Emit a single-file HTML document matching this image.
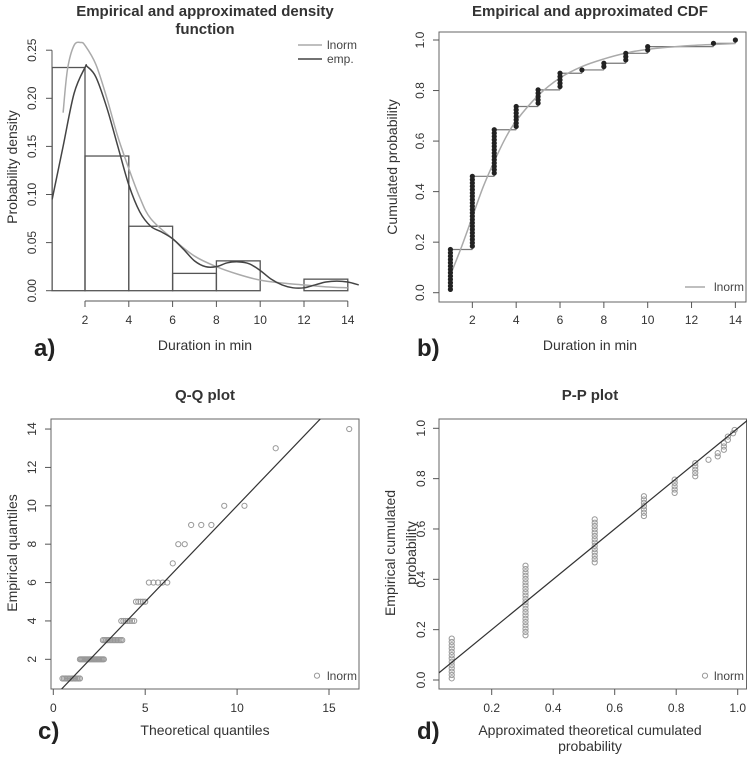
<!DOCTYPE html>
<html><head><meta charset="utf-8"><style>
html,body{margin:0;padding:0;background:#fff;}
svg{display:block;font-family:"Liberation Sans",Arial,sans-serif;}
.tk{font-size:12px;fill:#333;}
.lab{font-size:14px;fill:#333;}
.ttl{font-size:15px;font-weight:bold;fill:#333;}
.pl{font-size:24px;font-weight:bold;fill:#222;}
.leg{font-size:12px;fill:#444;}
</style></head><body>
<svg id="chart" width="750" height="758" viewBox="0 0 750 758">
<g id="gA"></g>
<g id="gB"></g>
<g id="gC"></g>
<g id="gD"></g>
</svg>
<script>
// ---- data ----
const histBreaks = [0.5, 2, 4, 6, 8, 10, 12, 14];
const histDensity = [0.232, 0.14, 0.067, 0.018, 0.031, 0, 0.012];
const lnormDensX = [1, 1.2, 1.5, 1.8, 2, 2.5, 3, 3.5, 4, 4.5, 5, 6, 7, 8, 9, 10, 11, 12, 13, 14];
const lnormDensY = [0.185, 0.23, 0.255, 0.258, 0.255, 0.235, 0.2, 0.16, 0.127, 0.097, 0.075, 0.054, 0.036, 0.025, 0.017, 0.011, 0.008, 0.006, 0.004, 0.003];
const empDensX = [0.5, 1, 1.5, 2, 2.1, 2.5, 3, 3.5, 4, 4.5, 5, 5.5, 6, 6.5, 7, 7.5, 8, 8.5, 9, 9.5, 10, 10.5, 11, 11.5, 12, 12.5, 13, 13.5, 14, 14.5];
const empDensY = [0.095, 0.15, 0.205, 0.232, 0.233, 0.222, 0.19, 0.15, 0.11, 0.082, 0.067, 0.061, 0.054, 0.043, 0.031, 0.025, 0.025, 0.029, 0.030, 0.028, 0.021, 0.012, 0.006, 0.003, 0.003, 0.006, 0.009, 0.010, 0.009, 0.006];
const obsValues = [1, 2, 3, 4, 5, 6, 7, 8, 9, 10, 13, 14];
const obsCounts = [13, 22, 14, 7, 5, 5, 1, 2, 3, 2, 1, 1];
const lnormCdfX = [1, 1.5, 2, 2.5, 3, 3.5, 4, 5, 6, 7, 8, 9, 10, 12, 14];
const lnormCdfY = [0.07, 0.18, 0.3, 0.42, 0.52, 0.61, 0.68, 0.78, 0.85, 0.895, 0.925, 0.948, 0.963, 0.978, 0.986];
const qqTheoLo = [0.5, 1.45, 2.7, 3.7, 4.5, 5.2, 6.5, 6.8, 7.5, 9.3, 12.1, 16.1];
const qqTheoHi = [1.45, 2.75, 3.75, 4.4, 5.0, 6.2, 6.5, 7.15, 8.6, 10.4, 12.1, 16.1];
const ppTheo = [0.07, 0.31, 0.535, 0.695, 0.795, 0.862, 0.905, 0.935, 0.955, 0.968, 0.985, 0.99];
const aYTicks = ["0.00","0.05","0.10","0.15","0.20","0.25"];
const aXTicks = [2,4,6,8,10,12,14];
const bYTicks = ["0.0","0.2","0.4","0.6","0.8","1.0"];
const cXTicks = [0,5,10,15];
const cYTicks = [2,4,6,8,10,12,14];
const dXTicks = ["0.2","0.4","0.6","0.8","1.0"];

const NS="http://www.w3.org/2000/svg";
function mk(parent, tag, attrs, text){const e=document.createElementNS(NS,tag);for(const k in attrs)e.setAttribute(k,attrs[k]);if(text!==undefined)e.textContent=text;parent.appendChild(e);return e;}
function smooth(pts){let d=`M${pts[0][0]},${pts[0][1]}`;
 for(let i=0;i<pts.length-1;i++){const p0=pts[i-1]||pts[i],p1=pts[i],p2=pts[i+1],p3=pts[i+2]||p2;
  const c1=[p1[0]+(p2[0]-p0[0])/6,p1[1]+(p2[1]-p0[1])/6],c2=[p2[0]-(p3[0]-p1[0])/6,p2[1]-(p3[1]-p1[1])/6];
  d+=`C${c1[0]},${c1[1]} ${c2[0]},${c2[1]} ${p2[0]},${p2[1]}`;}
 return d;}
const N = obsCounts.reduce((a,b)=>a+b,0);
const cum=[];{let s=0;for(const c of obsCounts){s+=c;cum.push(s);}}

// ---------- Panel A ----------
(function(){
const g=document.getElementById('gA');
const X=v=>41.2+v*21.9, Y=v=>290.7-v*962;
let e;
e=mk(g,'text',{x:205,y:16,'text-anchor':'middle',class:'ttl'},'Empirical and approximated density');

e=mk(g,'text',{x:205,y:34,'text-anchor':'middle',class:'ttl'},'function');

e=mk(g,'line',{x1:52,x2:52,y1:Y(0),y2:Y(0.25),stroke:'#555'});

aYTicks.forEach(t=>{const y=Y(parseFloat(t));
 mk(g,'line',{x1:46,x2:52,y1:y,y2:y,stroke:'#555'});
 e=mk(g,'text',{x:36,y:y,'text-anchor':'middle',class:'tk',transform:`rotate(-90 36 ${y})`},t);
 });
e=mk(g,'line',{x1:X(2),x2:X(14),y1:301,y2:301,stroke:'#555'});

aXTicks.forEach(t=>{mk(g,'line',{x1:X(t),x2:X(t),y1:301,y2:307,stroke:'#555'});
 e=mk(g,'text',{x:X(t),y:324,'text-anchor':'middle',class:'tk'},t);
 });
histDensity.forEach((d,i)=>{const x0=X(histBreaks[i]),x1=X(histBreaks[i+1]);
 e=mk(g,'rect',{x:x0,y:Y(d),width:x1-x0,height:Y(0)-Y(d),fill:'none',stroke:'#555','stroke-width':1.3});
 });
e=mk(g,'path',{d:smooth(lnormDensX.map((x,i)=>[X(x),Y(lnormDensY[i])])),fill:'none',stroke:'#aaa','stroke-width':1.5});

e=mk(g,'path',{d:smooth(empDensX.map((x,i)=>[X(x),Y(empDensY[i])])),fill:'none',stroke:'#444','stroke-width':1.5});

mk(g,'line',{x1:298,x2:322,y1:45,y2:45,stroke:'#aaa','stroke-width':1.5});
e=mk(g,'text',{x:327,y:49,class:'leg'},'lnorm');
mk(g,'line',{x1:298,x2:322,y1:59,y2:59,stroke:'#444','stroke-width':1.5});
e=mk(g,'text',{x:327,y:63,class:'leg'},'emp.');
e=mk(g,'text',{x:17,y:167,'text-anchor':'middle',class:'lab',transform:'rotate(-90 17 167)'},'Probability density');

e=mk(g,'text',{x:205,y:350,'text-anchor':'middle',class:'lab'},'Duration in min');

e=mk(g,'text',{x:34,y:356,class:'pl'},'a)');
})();

// ---------- Panel B ----------
(function(){
const g=document.getElementById('gB');
const X=v=>428.5+v*21.92, Y=v=>292.7-v*252.7;
let e;
e=mk(g,'text',{x:590,y:16,'text-anchor':'middle',class:'ttl'},'Empirical and approximated CDF');

e=mk(g,'rect',{x:439,y:32,width:307,height:270,fill:'none',stroke:'#666'});

bYTicks.forEach(t=>{const y=Y(parseFloat(t));mk(g,'line',{x1:433,x2:439,y1:y,y2:y,stroke:'#555'});
 e=mk(g,'text',{x:424,y:y,'text-anchor':'middle',class:'tk',transform:`rotate(-90 424 ${y})`},t);
 });
aXTicks.forEach(t=>{mk(g,'line',{x1:X(t),x2:X(t),y1:302,y2:308,stroke:'#555'});
 e=mk(g,'text',{x:X(t),y:324,'text-anchor':'middle',class:'tk'},t);
 });
let d='';
obsValues.forEach((v,i)=>{const yv=cum[i]/N;const xn=i<obsValues.length-1?obsValues[i+1]:obsValues[i];
 d+=`M${X(v)},${Y(yv)}L${X(xn)},${Y(yv)}`; if(i>0) d+=`M${X(v)},${Y(cum[i-1]/N)}L${X(v)},${Y(yv)}`;});
e=mk(g,'path',{d:d,stroke:'#777','stroke-width':1.2,fill:'none'});

e=mk(g,'path',{d:smooth(lnormCdfX.map((x,i)=>[X(x),Y(lnormCdfY[i])])),fill:'none',stroke:'#aaa','stroke-width':1.5});

obsValues.forEach((v,i)=>{const s=i?cum[i-1]:0;for(let k=s+1;k<=cum[i];k++){
 e=mk(g,'circle',{cx:X(v),cy:Y(k/N),r:2.6,fill:'#222'});
 }});
mk(g,'line',{x1:685,x2:705,y1:287,y2:287,stroke:'#aaa','stroke-width':1.5});
e=mk(g,'text',{x:714,y:291,class:'leg'},'lnorm');
e=mk(g,'text',{x:397,y:167,'text-anchor':'middle',class:'lab',transform:'rotate(-90 397 167)'},'Cumulated probability');

e=mk(g,'text',{x:590,y:350,'text-anchor':'middle',class:'lab'},'Duration in min');

e=mk(g,'text',{x:417,y:356,class:'pl'},'b)');
})();

// ---------- Panel C ----------
(function(){
const g=document.getElementById('gC');
const X=v=>53.3+v*18.38, Y=v=>697.7-v*19.19;
let e;
e=mk(g,'text',{x:205,y:400,'text-anchor':'middle',class:'ttl'},'Q-Q plot');

mk(g,'defs',{}).innerHTML='<clipPath id="clipC"><rect x="51" y="419" width="308" height="270"/></clipPath>';
e=mk(g,'rect',{x:51,y:419,width:308,height:270,fill:'none',stroke:'#666'});

cYTicks.forEach(t=>{const y=Y(t);mk(g,'line',{x1:45,x2:51,y1:y,y2:y,stroke:'#555'});
 e=mk(g,'text',{x:36,y:y,'text-anchor':'middle',class:'tk',transform:`rotate(-90 36 ${y})`},t);
 });
cXTicks.forEach(t=>{mk(g,'line',{x1:X(t),x2:X(t),y1:689,y2:695,stroke:'#555'});
 e=mk(g,'text',{x:X(t),y:712,'text-anchor':'middle',class:'tk'},t);
 });
obsValues.forEach((v,i)=>{const n=obsCounts[i];for(let k=0;k<n;k++){
 const t=n>1?qqTheoLo[i]+(qqTheoHi[i]-qqTheoLo[i])*k/(n-1):qqTheoLo[i];
 e=mk(g,'circle',{cx:X(t),cy:Y(v),r:2.6,fill:'none',stroke:'#999','stroke-width':1});
 }});
e=mk(g,'line',{x1:X(0),y1:Y(0),x2:X(16),y2:Y(16),stroke:'#333','stroke-width':1.2,'clip-path':'url(#clipC)'});

mk(g,'circle',{cx:317,cy:675.7,r:2.6,fill:'none',stroke:'#999'});
e=mk(g,'text',{x:327,y:680,class:'leg'},'lnorm');
e=mk(g,'text',{x:17,y:553,'text-anchor':'middle',class:'lab',transform:'rotate(-90 17 553)'},'Empirical quantiles');

e=mk(g,'text',{x:205,y:735,'text-anchor':'middle',class:'lab'},'Theoretical quantiles');

e=mk(g,'text',{x:38,y:739,class:'pl'},'c)');
})();

// ---------- Panel D ----------
(function(){
const g=document.getElementById('gD');
const X=v=>430.2+v*307.5, Y=v=>680-v*251.7;
let e;
e=mk(g,'text',{x:590,y:400,'text-anchor':'middle',class:'ttl'},'P-P plot');

mk(g,'defs',{}).innerHTML='<clipPath id="clipD"><rect x="439" y="419" width="308" height="270"/></clipPath>';
e=mk(g,'rect',{x:439,y:419,width:307.5,height:270,fill:'none',stroke:'#666'});

bYTicks.forEach(t=>{const y=Y(parseFloat(t));mk(g,'line',{x1:433,x2:439,y1:y,y2:y,stroke:'#555'});
 e=mk(g,'text',{x:425,y:y,'text-anchor':'middle',class:'tk',transform:`rotate(-90 425 ${y})`},t);
 });
dXTicks.forEach(t=>{const x=X(parseFloat(t));mk(g,'line',{x1:x,x2:x,y1:689,y2:695,stroke:'#555'});
 e=mk(g,'text',{x:x,y:712,'text-anchor':'middle',class:'tk'},t);
 });
obsValues.forEach((v,i)=>{const s=i?cum[i-1]:0;for(let k=s+1;k<=cum[i];k++){
 e=mk(g,'circle',{cx:X(ppTheo[i]),cy:Y((k-0.5)/N),r:2.6,fill:'none',stroke:'#999','stroke-width':1});
 }});
e=mk(g,'line',{x1:X(0),y1:Y(0),x2:X(1.1),y2:Y(1.1),stroke:'#333','stroke-width':1.2,'clip-path':'url(#clipD)'});

mk(g,'circle',{cx:705,cy:675.7,r:2.6,fill:'none',stroke:'#999'});
e=mk(g,'text',{x:714,y:680,class:'leg'},'lnorm');
e=mk(g,'text',{x:395,y:553,'text-anchor':'middle',class:'lab',transform:'rotate(-90 395 553)'},'Empirical cumulated');

e=mk(g,'text',{x:416,y:553,'text-anchor':'middle',class:'lab',transform:'rotate(-90 416 553)'},'probability');

e=mk(g,'text',{x:590,y:735,'text-anchor':'middle',class:'lab'},'Approximated theoretical cumulated');

e=mk(g,'text',{x:590,y:751,'text-anchor':'middle',class:'lab'},'probability');

e=mk(g,'text',{x:417,y:739,class:'pl'},'d)');
})();
</script>
</body></html>
